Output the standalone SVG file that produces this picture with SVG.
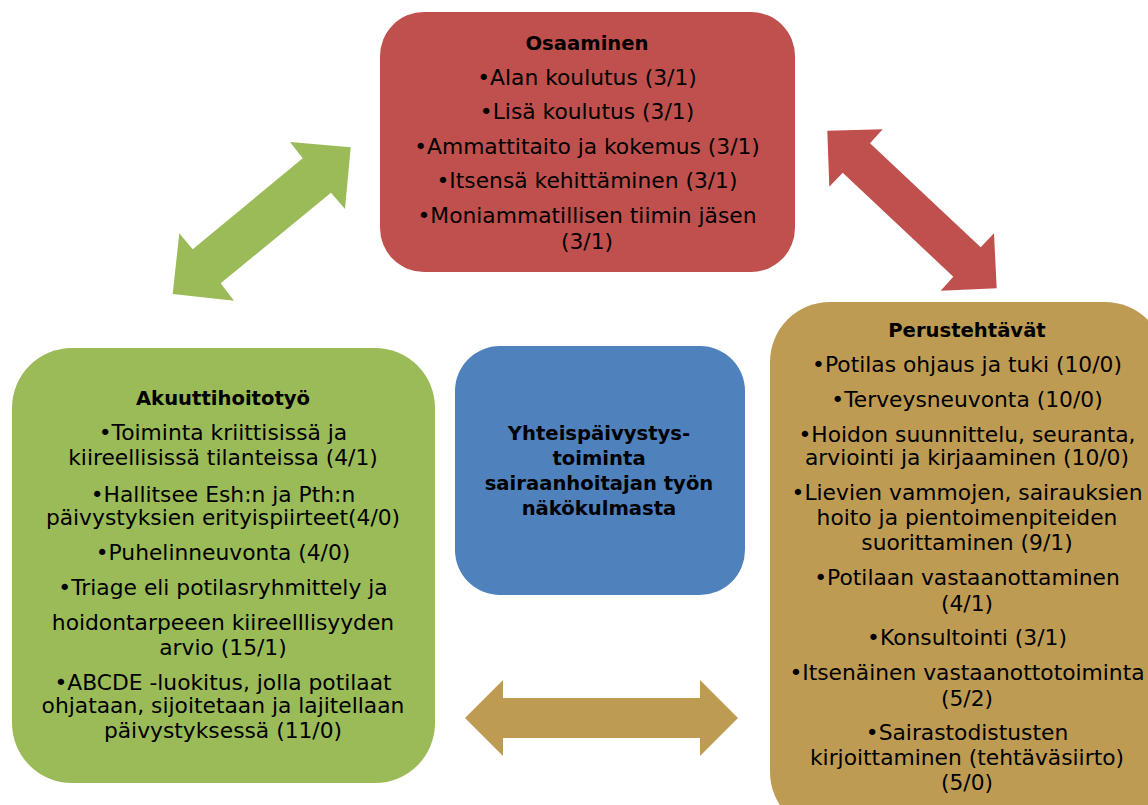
<svg xmlns="http://www.w3.org/2000/svg" width="1148" height="805" viewBox="0 0 1148 805">
<style>
text{font-family:"DejaVu Sans","Liberation Sans",sans-serif;font-size:21.8px;fill:#000;text-anchor:middle}
.b{font-weight:bold;font-size:19.6px}
</style>
<rect width="1148" height="805" fill="#fff"/>
<g id="connectors">
<polygon fill="#9BBB59" points="350.7,147.3 345,209 331,192.7 220.7,283.3 234,300.7 172.7,294 179.3,233.3 192.7,249.3 302.7,158.3 290,142"/>
<polygon fill="#C0504D" points="827.3,130.7 882.7,129.3 870,143.3 980.7,247.3 994,233.3 996.7,288.3 940.7,290.7 953.3,276.7 842.7,172.7 829.3,186.7"/>
<polygon fill="#BE9B53" points="465,718 503,680 503,698 700,698 700,680 738,718 700,756 700,738 503,738 503,756"/>
</g>
<g id="osaaminen">
<rect x="380" y="12" width="415" height="260" rx="44" fill="#C0504D"/>
<text x="587" y="50" class="b">Osaaminen</text>
<text x="587" y="85">•Alan koulutus (3/1)</text>
<text x="587" y="119">•Lisä koulutus (3/1)</text>
<text x="587" y="154">•Ammattitaito ja kokemus (3/1)</text>
<text x="587" y="188">•Itsensä kehittäminen (3/1)</text>
<text x="587" y="223">•Moniammatillisen tiimin jäsen</text>
<text x="587" y="249">(3/1)</text>
</g>
<g id="akuuttihoitotyo">
<rect x="12" y="348" width="423" height="435" rx="60" fill="#9BBB59"/>
<text x="223" y="405" class="b">Akuuttihoitotyö</text>
<text x="223" y="440">•Toiminta kriittisissä ja</text>
<text x="223" y="465">kiireellisissä tilanteissa (4/1)</text>
<text x="223" y="502">•Hallitsee Esh:n ja Pth:n</text>
<text x="223" y="525">päivystyksien erityispiirteet(4/0)</text>
<text x="223" y="560">•Puhelinneuvonta (4/0)</text>
<text x="223" y="595">•Triage eli potilasryhmittely ja</text>
<text x="223" y="630">hoidontarpeeen kiireelllisyyden</text>
<text x="223" y="655">arvio (15/1)</text>
<text x="223" y="690">•ABCDE -luokitus, jolla potilaat</text>
<text x="223" y="713">ohjataan, sijoitetaan ja lajitellaan</text>
<text x="223" y="738">päivystyksessä (11/0)</text>
</g>
<g id="yhteispaivystys">
<rect x="455" y="346" width="290" height="249" rx="45" fill="#4F81BD"/>
<text x="599" y="440" class="b">Yhteispäivystys-</text>
<text x="599" y="465" class="b">toiminta</text>
<text x="599" y="490" class="b">sairaanhoitajan työn</text>
<text x="599" y="515" class="b">näkökulmasta</text>
</g>
<g id="perustehtavat">
<rect x="770" y="302" width="395" height="530" rx="60" fill="#BE9B53"/>
<text x="967" y="337" class="b">Perustehtävät</text>
<text x="967" y="372">•Potilas ohjaus ja tuki (10/0)</text>
<text x="967" y="407">•Terveysneuvonta (10/0)</text>
<text x="967" y="442">•Hoidon suunnittelu, seuranta,</text>
<text x="967" y="465">arviointi ja kirjaaminen (10/0)</text>
<text x="967" y="500">•Lievien vammojen, sairauksien</text>
<text x="967" y="525">hoito ja pientoimenpiteiden</text>
<text x="967" y="550">suorittaminen (9/1)</text>
<text x="967" y="585">•Potilaan vastaanottaminen</text>
<text x="967" y="611">(4/1)</text>
<text x="967" y="645">•Konsultointi (3/1)</text>
<text x="967" y="680">•Itsenäinen vastaanottotoiminta</text>
<text x="967" y="706">(5/2)</text>
<text x="967" y="740">•Sairastodistusten</text>
<text x="967" y="765">kirjoittaminen (tehtäväsiirto)</text>
<text x="967" y="790">(5/0)</text>
</g>
</svg>
